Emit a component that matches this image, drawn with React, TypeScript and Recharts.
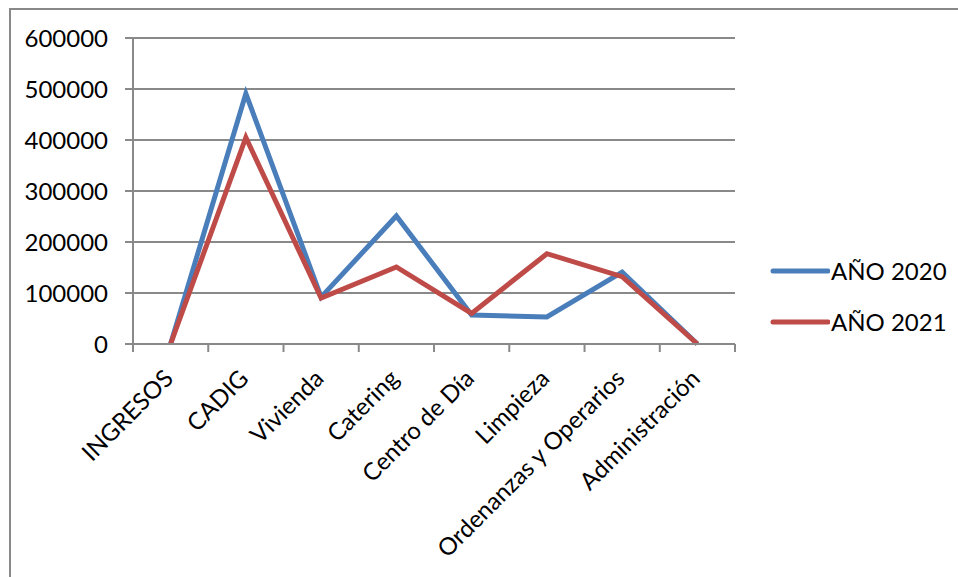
import React from 'react';
import { LineChart, Line, XAxis, YAxis, CartesianGrid, Legend } from 'recharts';

const categories = ['INGRESOS', 'CADIG', 'Vivienda', 'Catering', 'Centro de Día', 'Limpieza', 'Ordenanzas y Operarios', 'Administración'];
const values2020 = [0, 491000, 92000, 251000, 57000, 53000, 141000, 0];
const values2021 = [0, 405000, 90000, 151000, 60000, 177000, 132000, 0];
const yTicks = [0, 100000, 200000, 300000, 400000, 500000, 600000];
const seriesNames = ['AÑO 2020', 'AÑO 2021'];
const colors = ['#4A7EBB', '#BE4B48'];

const data = categories.map((c, i) => ({ name: c, a2020: values2020[i], a2021: values2021[i] }));

const FONT = 'Lato, "Open Sans", sans-serif';
const GRID = '#898989';
const HALF_BAND = 37.6;

const XTick = (props: any) => {
  const { x, y, payload, index } = props;
  const axisY = y - 8;
  const last = index === categories.length - 1;
  return (
    <g>
      <line x1={x - HALF_BAND} x2={x - HALF_BAND} y1={axisY} y2={axisY + 8} stroke={GRID} strokeWidth={2} />
      {last && <line x1={x + HALF_BAND} x2={x + HALF_BAND} y1={axisY} y2={axisY + 8} stroke={GRID} strokeWidth={2} />}
      <text
        x={x + 4}
        y={axisY + 36}
        textAnchor="end"
        transform={`rotate(-45 ${x + 4} ${axisY + 36})`}
        fontFamily={FONT}
        fontSize={24}
        fill="#000"
      >
        {payload.value}
      </text>
    </g>
  );
};

const LegendContent = () => (
  <div style={{ fontFamily: FONT, fontSize: 24, color: '#000' }}>
    {seriesNames.map((n, i) => (
      <div key={n} style={{ display: 'flex', alignItems: 'center', height: 51 }}>
        <svg width={60} height={10} style={{ display: 'block' }}>
          <line x1={3} x2={58} y1={5} y2={5} stroke={colors[i]} strokeWidth={5} strokeLinecap="round" />
        </svg>
        <span style={{ marginLeft: 1 }}>{n}</span>
      </div>
    ))}
  </div>
);

export default function App() {
  return (
    <div style={{ position: 'absolute', left: 0, top: 0, width: 958, height: 577, overflow: 'hidden', background: '#fff' }}>
      <div style={{ position: 'absolute', left: 9, top: 8, width: 1000, height: 700, borderTop: `2px solid ${GRID}`, borderLeft: `2px solid ${GRID}` }} />
      <div style={{ position: 'absolute', left: 0, top: 0 }}>
        <LineChart width={958} height={577} data={data} margin={{ top: 38, right: 223, bottom: 0, left: 0 }}>
          <CartesianGrid vertical={false} stroke={GRID} strokeWidth={2} />
          <XAxis
            dataKey="name"
            padding={{ left: HALF_BAND, right: HALF_BAND }}
            height={233}
            interval={0}
            tickLine={false}
            tickSize={8}
            tickMargin={0}
            axisLine={{ stroke: GRID, strokeWidth: 2 }}
            tick={<XTick />}
          />
          <YAxis
            width={133}
            domain={[0, 600000]}
            ticks={yTicks}
            interval={0}
            tickSize={8}
            tickMargin={17}
            axisLine={{ stroke: GRID, strokeWidth: 2 }}
            tickLine={{ stroke: GRID, strokeWidth: 2 }}
            tick={{ fontFamily: FONT, fontSize: 24, fill: '#000' }}
          />
          <Legend
            layout="vertical"
            align="center"
            verticalAlign="middle"
            content={<LegendContent />}
            wrapperStyle={{ left: 770, top: 245, width: 185 }}
          />
          <Line dataKey="a2020" name={seriesNames[0]} stroke={colors[0]} strokeWidth={5} dot={false} activeDot={false} isAnimationActive={false} />
          <Line dataKey="a2021" name={seriesNames[1]} stroke={colors[1]} strokeWidth={5} dot={false} activeDot={false} isAnimationActive={false} />
        </LineChart>
      </div>
    </div>
  );
}
